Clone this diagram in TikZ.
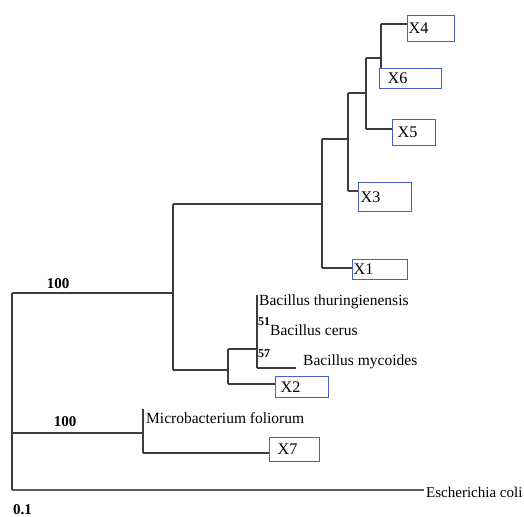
\documentclass[tikz,border=0pt]{standalone}
\usepackage{fontspec}
\setmainfont{Liberation Serif}
\definecolor{treeline}{HTML}{3C3C3C}
\definecolor{boxblue}{HTML}{4A5DCC}
\begin{document}
\begin{tikzpicture}[x=1pt,y=-1pt,
  branch/.style={draw=treeline,line width=1.3pt},
  leafbox/.style={draw=boxblue,line width=1.2pt,anchor=north west,inner sep=0pt,
    font=\fontsize{16.2}{18}\selectfont,align=left},
  taxon/.style={anchor=base west,inner sep=0pt,font=\fontsize{15.5}{17}\selectfont},
  boot/.style={inner sep=0pt,font=\fontsize{15}{17}\selectfont\bfseries},
  bootsmall/.style={anchor=base west,inner sep=0pt,font=\fontsize{12}{14}\selectfont\bfseries}]
\useasboundingbox (0,0) rectangle (524,516);
% leaf boxes
\node[leafbox,minimum width=47pt,minimum height=26pt,text width=45pt] (x4) at (407,15) {\hspace*{0pt}X4};
\node[leafbox,minimum width=62pt,minimum height=20pt,text width=56pt] (x6) at (379,68) {\hspace*{5pt}X6};
\node[leafbox,minimum width=43pt,minimum height=26pt,text width=39pt] (x5) at (392,119) {\hspace*{3pt}X5};
\node[leafbox,minimum width=53pt,minimum height=29pt,text width=51pt] (x3) at (358,182) {\hspace*{1pt}X3};
\node[leafbox,minimum width=55pt,minimum height=20pt,text width=53pt] (x1) at (352,259) {\hspace*{0pt}X1};
\node[leafbox,minimum width=53pt,minimum height=21pt,text width=49pt] (x2) at (275,376) {\hspace*{3pt}X2};
\node[leafbox,minimum width=50pt,minimum height=24pt,text width=44pt] (x7) at (269,437) {\hspace*{5pt}X7};
% taxon names
\node[taxon] (thu) at (259,305) {Bacillus thuringienensis};
\node[taxon] (cer) at (270,335) {Bacillus cerus};
\node[taxon] (myc) at (303,365) {Bacillus mycoides};
\node[taxon] (mic) at (146,423) {Microbacterium foliorum};
\node[taxon,font=\fontsize{15}{17}\selectfont] (eco) at (426,497) {Escherichia coli};
% bootstrap values and scale
\node[boot,anchor=base] (b1) at (58,288) {100};
\node[boot,anchor=base] (b2) at (65,426) {100};
\node[bootsmall] (b3) at (258,325) {51};
\node[bootsmall] (b4) at (258,357) {57};
\node[boot,anchor=base west] (sc) at (13,514) {0.1};
% internal nodes
\coordinate (Rt) at (12,293);
\coordinate (Rb) at (12,490);
\coordinate (Rh) at (12,433);
\coordinate (At) at (173,204);
\coordinate (Ab) at (173,370);
\coordinate (Bt) at (322,139);
\coordinate (Bb) at (322,268);
\coordinate (Ct) at (348,93);
\coordinate (Cb) at (348,191);
\coordinate (Dt) at (366,58);
\coordinate (Db) at (366,129);
\coordinate (Et) at (381,24);
\coordinate (Ft) at (228,349);
\coordinate (Fb) at (228,384);
\coordinate (Gt) at (257,295);
\coordinate (Gb) at (257,368);
\coordinate (Ht) at (143,409);
\coordinate (Hb) at (143,453);
\coordinate (mycend) at (296,368);
\coordinate (ecoend) at (424,490);
% tree
\draw[branch] (Rt) -- (Rb);
\draw[branch] (Rt) -- (Rt -| At);
\draw[branch] (At) -- (Ab);
\draw[branch] (At) -- (At -| Bt);
\draw[branch] (Bt) -- (Bb);
\draw[branch] (Bt) -- (Bt -| Ct);
\draw[branch] (Ct) -- (Cb);
\draw[branch] (Ct) -- (Ct -| Dt);
\draw[branch] (Dt) -- (Db);
\draw[branch] (Dt) -- (Dt -| Et);
\draw[branch] (Et) -- (Et |- x6.north);
\draw[branch] (Et) -- (Et -| x4.west);
\draw[branch] (Db) -- (Db -| x5.west);
\draw[branch] (Cb) -- (Cb -| x3.west);
\draw[branch] (Bb) -- (Bb -| x1.west);
\draw[branch] (Ab) -- (Ab -| Ft);
\draw[branch] (Ft) -- (Fb);
\draw[branch] (Ft) -- (Ft -| Gt);
\draw[branch] (Gt) -- (Gb);
\draw[branch] (Gb) -- (mycend);
\draw[branch] (Fb) -- (Fb -| x2.west);
\draw[branch] (Rh) -- (Rh -| Ht);
\draw[branch] (Ht) -- (Hb);
\draw[branch] (Hb) -- (Hb -| x7.west);
\draw[branch,draw=treeline!85] (Rb) -- (ecoend);
\end{tikzpicture}
\end{document}
